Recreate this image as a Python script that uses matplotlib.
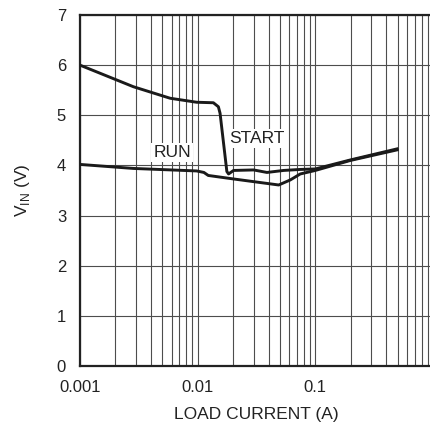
import numpy as np
import matplotlib
matplotlib.use("Agg")
import matplotlib.pyplot as plt
from matplotlib.ticker import FixedLocator, NullFormatter

plt.rcParams['font.family'] = ['Liberation Sans', 'DejaVu Sans']

# START curve (upper)
start_i = [0.001, 0.00284, 0.00583, 0.0098, 0.0136, 0.0150, 0.0155, 0.0177, 0.0183,
           0.0202, 0.0299, 0.0388, 0.0537, 0.0745, 0.1, 0.199, 0.495]
start_v = [6.00, 5.57, 5.34, 5.26, 5.25, 5.17, 5.04, 3.88, 3.83,
           3.90, 3.91, 3.86, 3.90, 3.92, 3.93, 4.11, 4.33]

# RUN curve (lower)
run_i = [0.001, 0.00284, 0.0098, 0.0113, 0.0123, 0.0202, 0.0488, 0.0612, 0.0745,
         0.1, 0.199, 0.495]
run_v = [4.02, 3.94, 3.89, 3.86, 3.80, 3.73, 3.61, 3.71, 3.83,
         3.90, 4.10, 4.31]

x_ticks = [0.001, 0.01, 0.1, 1]
x_labels = ['0.001', '0.01', '0.1', '1']
y_ticks = [0, 1, 2, 3, 4, 5, 6, 7]

fig = plt.figure(figsize=(4.31, 4.29), dpi=100)
ax = fig.add_axes([80 / 431, 63 / 429, 353 / 431, 351 / 429])

ax.plot(start_i, start_v, color='#1a1a1a', lw=2.1, solid_joinstyle='round', zorder=3)
ax.plot(run_i, run_v, color='#1a1a1a', lw=2.1, solid_joinstyle='round', zorder=3)

ax.set_xscale('log')
ax.set_xlim(0.001, 1)
ax.set_ylim(0, 7)

ax.xaxis.set_major_locator(FixedLocator(x_ticks))
ax.set_xticklabels(x_labels)
minor = [m * 10.0 ** e for e in (-3, -2, -1) for m in range(2, 10)]
ax.xaxis.set_minor_locator(FixedLocator(minor))
ax.xaxis.set_minor_formatter(NullFormatter())
ax.set_yticks(y_ticks)

ax.grid(True, which='both', axis='x', color='#4d4d4d', lw=0.8)
ax.grid(True, which='major', axis='y', color='#4d4d4d', lw=0.8)
ax.tick_params(which='both', length=0, labelsize=12, colors='#222222')
ax.tick_params(axis='x', pad=10)
ax.tick_params(axis='y', pad=10)

for side in ('left', 'bottom', 'top'):
    ax.spines[side].set_linewidth(1.6)
    ax.spines[side].set_color('#222222')
ax.spines['right'].set_visible(False)

box = dict(facecolor='white', edgecolor='none', pad=1.5)
ax.text(0.00606, 4.25, 'RUN', fontsize=12.5, ha='center', va='center', color='#222222', bbox=box, zorder=4)
ax.text(0.032, 4.53, 'START', fontsize=12.5, ha='center', va='center', color='#222222', bbox=box, zorder=4)

ax.set_xlabel('LOAD CURRENT (A)', fontsize=12.5, color='#222222', labelpad=9)
ax.set_ylabel('V$_{\\mathregular{IN}}$ (V)', fontsize=12.5, color='#222222', labelpad=18)

fig.savefig('out.png', dpi=100)
